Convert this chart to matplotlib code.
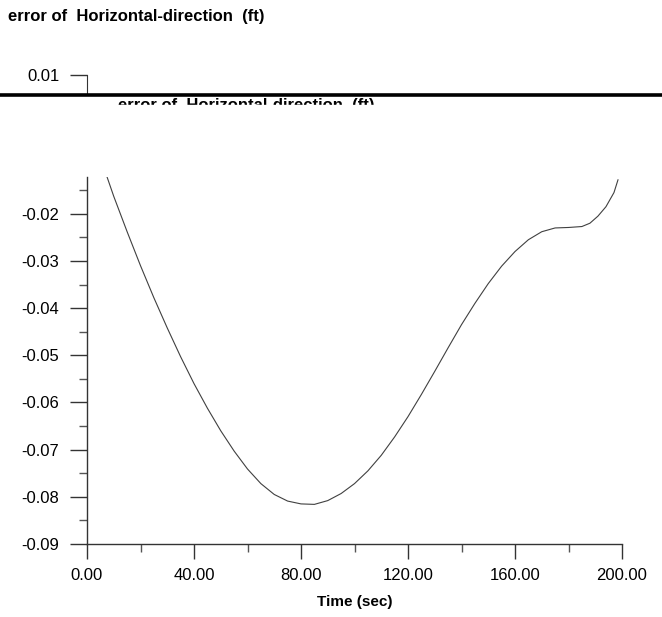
import matplotlib
matplotlib.use("Agg")
import matplotlib.pyplot as plt
from matplotlib.ticker import MultipleLocator, FormatStrFormatter
from matplotlib.patches import Rectangle
from matplotlib.lines import Line2D

plt.rcParams['font.family'] = ['Liberation Sans', 'DejaVu Sans']

# values
time_sec = [7.5, 10, 15, 20, 25, 30, 35, 40, 45, 50, 55, 60, 65, 70, 75, 80,
            85, 90, 95, 100, 105, 110, 115, 120, 125, 130, 135, 140, 145, 150,
            155, 160, 165, 170, 175, 180, 185, 188, 191, 194, 197, 198.5]
error_ft = [-0.0122, -0.0163, -0.0238, -0.0310, -0.0378, -0.0442, -0.0503,
            -0.0560, -0.0612, -0.0660, -0.0703, -0.0741, -0.0772, -0.0795,
            -0.0809, -0.0815, -0.0816, -0.0808, -0.0793, -0.0772, -0.0745,
            -0.0712, -0.0673, -0.0630, -0.0583, -0.0534, -0.0484, -0.0435,
            -0.0390, -0.0348, -0.0311, -0.0280, -0.0255, -0.0238, -0.0230,
            -0.0229, -0.0227, -0.0220, -0.0205, -0.0185, -0.0155, -0.0128]

title = "error of  Horizontal-direction  (ft)"
xlabel = "Time (sec)"

W, H = 662, 617
fig = plt.figure(figsize=(W / 100, H / 100), dpi=100)

# main axes (pixel box: x 87..622, y 177..544)
ax = fig.add_axes([87 / W, (H - 544) / H, (622 - 87) / W, (544 - 177) / H])
ax.plot(time_sec, error_ft, color='#404040', lw=0.8)
ax.set_xlim(0, 200)
ax.set_ylim(-0.09, -0.0122)

ax.spines['top'].set_visible(False)
ax.spines['right'].set_visible(False)
for s in ('left', 'bottom'):
    ax.spines[s].set_color('#333333')
    ax.spines[s].set_linewidth(1.0)

ax.xaxis.set_major_locator(MultipleLocator(40))
ax.xaxis.set_minor_locator(MultipleLocator(20))
ax.yaxis.set_major_locator(MultipleLocator(0.01))
ax.yaxis.set_minor_locator(MultipleLocator(0.005))
ax.xaxis.set_major_formatter(FormatStrFormatter('%.2f'))
ax.yaxis.set_major_formatter(FormatStrFormatter('%.2f'))

ax.tick_params(axis='y', which='major', direction='out', length=12, width=1.0,
               pad=8, labelsize=12, color='#333333')
ax.tick_params(axis='y', which='minor', direction='out', length=6, width=1.0,
               color='#555555')
ax.tick_params(axis='x', which='major', direction='out', length=11, width=1.0,
               pad=6, labelsize=12, color='#333333')
ax.tick_params(axis='x', which='minor', direction='out', length=6, width=1.0,
               color='#555555')
ax.set_xlabel(xlabel, fontsize=11, fontweight='bold', labelpad=9)

# top stub of the axis showing 0.01 (cut off by the scan band)
ax2 = fig.add_axes([87 / W, (H - 93) / H, 0.001, (93 - 75) / H])
ax2.set_ylim(0.0, 0.01)
ax2.set_yticks([0.01])
ax2.yaxis.set_major_formatter(FormatStrFormatter('%.2f'))
ax2.set_xticks([])
for s in ('top', 'right', 'bottom'):
    ax2.spines[s].set_visible(False)
ax2.spines['left'].set_color('#333333')
ax2.tick_params(axis='y', direction='out', length=12, width=1.0, pad=8,
                labelsize=12, color='#333333')
ax2.patch.set_alpha(0)

# title
fig.text(8 / W, 1 - 17 / H, title, fontsize=12, fontweight='bold',
         ha='left', va='center')

# scan artefact: dark band and half-hidden repeated title
fig.add_artist(Line2D([0, 1], [1 - 94.5 / H, 1 - 94.5 / H], color='black', lw=2.6))
fig.text(118 / W, 1 - 106 / H, title, fontsize=12, fontweight='bold',
         ha='left', va='center', zorder=3)
fig.add_artist(Rectangle((0, 1 - 122 / H), 1, 17 / H, color='white', zorder=4,
                         transform=fig.transFigure))

fig.savefig("out.png", dpi=100)
